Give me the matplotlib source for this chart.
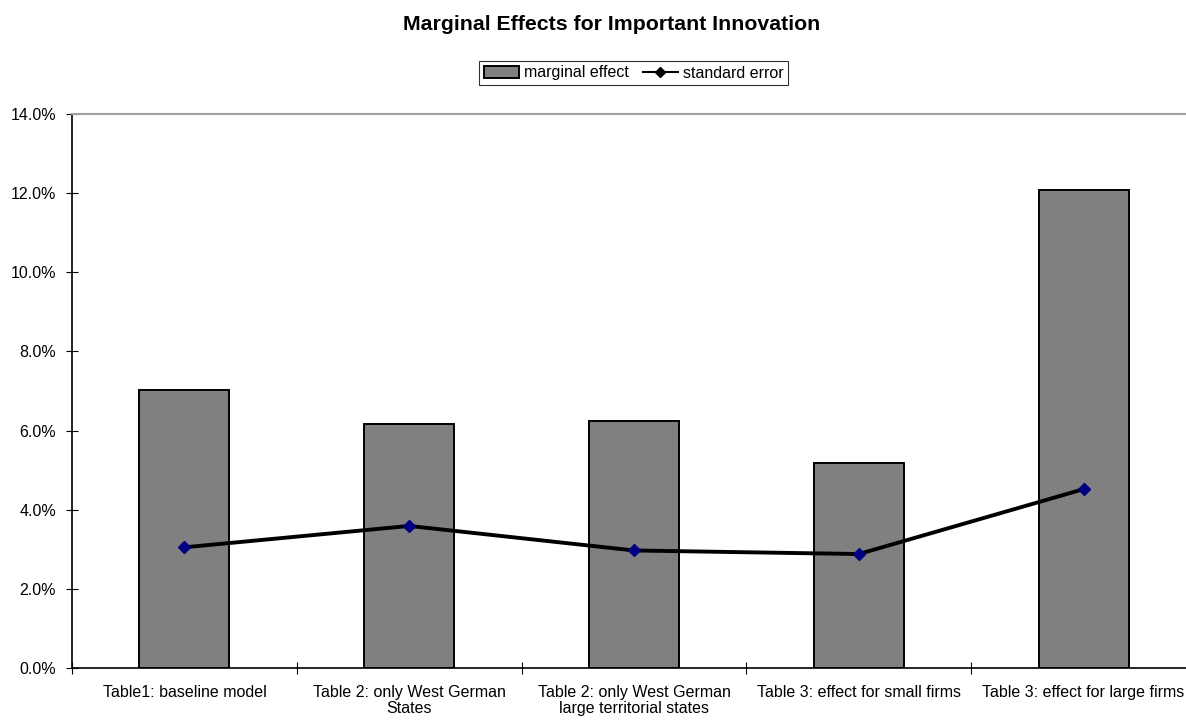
import matplotlib
matplotlib.use("Agg")
import matplotlib.pyplot as plt
from matplotlib.ticker import FuncFormatter, MultipleLocator
from matplotlib.lines import Line2D
from matplotlib.patches import Patch

plt.rcParams['font.family'] = ['Liberation Sans', 'DejaVu Sans']

categories = ["Table1: baseline model",
              "Table 2: only West German\nStates",
              "Table 2: only West German\nlarge territorial states",
              "Table 3: effect for small firms",
              "Table 3: effect for large firms"]
marginal_effect = [0.0703, 0.0616, 0.0625, 0.0519, 0.1208]
standard_error = [0.0305, 0.0359, 0.0297, 0.0288, 0.0452]

fig = plt.figure(figsize=(11.86, 7.2), dpi=100)
W, H = 1186, 720
left, right, top, bottom = 72, 1196, 114, 668
ax = fig.add_axes([left / W, 1 - bottom / H, (right - left) / W, (bottom - top) / H])

x = list(range(len(categories)))
ax.bar(x, marginal_effect, width=0.40, color='#808080', edgecolor='black', linewidth=1.4, zorder=2)
ax.plot(x, standard_error, color='black', linewidth=2.8, marker='D', markersize=6,
        markerfacecolor='#000080', markeredgecolor='#000080', zorder=3)

ax.set_xlim(-0.5, len(categories) - 0.5)
ax.set_ylim(0, 0.14)
ax.yaxis.set_major_locator(MultipleLocator(0.02))
ax.yaxis.set_major_formatter(FuncFormatter(lambda v, p: f"{v*100:.1f}%"))
ax.set_xticks([i + 0.5 for i in range(-1, len(categories))], minor=False)
ax.set_xticklabels([])
ax.set_xticks(x, minor=True)
ax.set_xticklabels(categories, minor=True, fontsize=11.5, linespacing=1.1)
ax.tick_params(axis='x', which='minor', length=0, pad=12)
ax.tick_params(axis='x', which='major', direction='inout', length=9, width=0.8)
ax.tick_params(axis='y', direction='inout', length=9, width=0.8, labelsize=11.5, pad=7)

ax.spines['right'].set_visible(False)
ax.spines['top'].set_color('#a0a0a0')
ax.spines['top'].set_linewidth(1.5)
ax.spines['left'].set_linewidth(1.2)
ax.spines['bottom'].set_linewidth(1.2)
ax.spines['bottom'].set_zorder(4)

fig.text(0.5155, 1 - 24 / H, "Marginal Effects for Important Innovation", ha='center', va='center',
         fontsize=15.3, fontweight='bold')

handles = [Patch(facecolor='#808080', edgecolor='black', linewidth=1.4),
           Line2D([0], [0], color='black', linewidth=1.5, marker='D', markersize=5,
                  markerfacecolor='black', markeredgecolor='black')]
leg = fig.legend(handles, ["marginal effect", "standard error"], loc='center',
                 bbox_to_anchor=(633.5 / W, 1 - 73 / H), ncol=2, fontsize=11.5,
                 frameon=True, fancybox=False, edgecolor='black', handlelength=2.2,
                 handleheight=0.8, columnspacing=0.9, handletextpad=0.3, borderpad=0.3,
                 borderaxespad=0)
leg.get_frame().set_linewidth(0.8)

fig.savefig("out.png", dpi=100)
